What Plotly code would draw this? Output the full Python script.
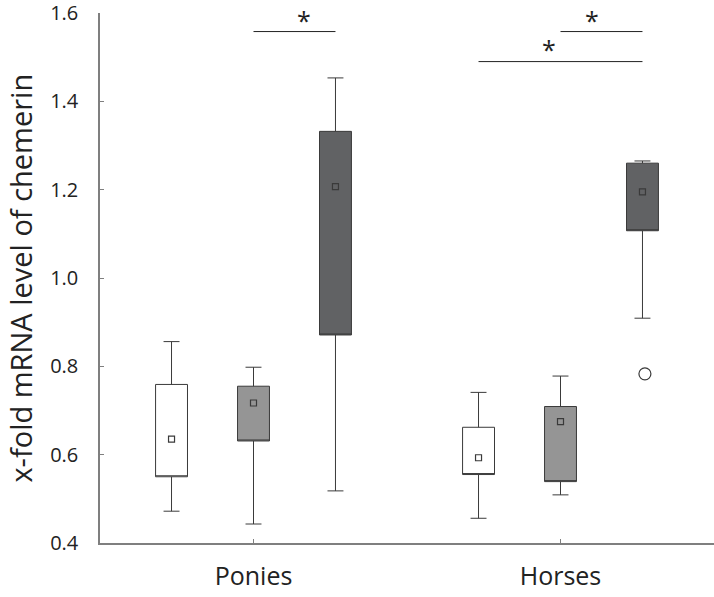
import plotly.graph_objects as go

categories = ["Ponies", "Horses"]

# Series 1 (white boxes)
s1_upper = [0.856, 0.741]
s1_q3 = [0.759, 0.662]
s1_q1 = [0.550, 0.555]
s1_lower = [0.472, 0.456]
s1_mean = [0.635, 0.593]

# Series 2 (light grey boxes)
s2_upper = [0.798, 0.778]
s2_q3 = [0.755, 0.709]
s2_q1 = [0.631, 0.539]
s2_lower = [0.443, 0.509]
s2_mean = [0.717, 0.675]

# Series 3 (dark grey boxes)
s3_upper = [1.453, 1.265]
s3_q3 = [1.332, 1.260]
s3_q1 = [0.871, 1.107]
s3_lower = [0.518, 0.909]
s3_mean = [1.207, 1.195]

# Outlier (Horses, series 3)
outlier_cat = [1]
outlier_val = [0.783]

y_ticks = [0.4, 0.6, 0.8, 1.0, 1.2, 1.4, 1.6]
y_title = "x-fold mRNA level of chemerin"

# significance brackets: (category, from series, to series, level)
sig_cat = [0, 1, 1]
sig_from = [1, 1, 0]
sig_to = [2, 2, 2]
sig_level = [1.558, 1.558, 1.490]
star_x = [0.163, 1.103, 0.962]
star_y = [1.600, 1.600, 1.535]

Y_MIN, Y_MAX = 0.4, 1.6
OFFSETS = [-0.267, 0.0, 0.267]
BOX_W = 0.104
LINE = "#3a3a3a"
FILLS = ["#ffffff", "#959595", "#616264"]
FONT = "Open Sans"

series = [
    (s1_upper, s1_q3, s1_q1, s1_lower, s1_mean),
    (s2_upper, s2_q3, s2_q1, s2_lower, s2_mean),
    (s3_upper, s3_q3, s3_q1, s3_lower, s3_mean),
]

fig = go.Figure()
for i, (up, q3, q1, lo, mn) in enumerate(series):
    xs = [c + OFFSETS[i] for c in range(len(categories))]
    fig.add_trace(go.Box(
        x=xs, q1=q1, median=q1, q3=q3, lowerfence=lo, upperfence=up,
        width=BOX_W, whiskerwidth=0.5, fillcolor=FILLS[i],
        line=dict(color=LINE, width=1), showlegend=False, hoverinfo="skip",
    ))
    fig.add_trace(go.Scatter(
        x=xs, y=mn, mode="markers",
        marker=dict(symbol="square-open", size=6, color=LINE, line=dict(width=1.2, color=LINE)),
        showlegend=False, hoverinfo="skip",
    ))

fig.add_trace(go.Scatter(
    x=[c + OFFSETS[2] + 0.008 for c in outlier_cat], y=outlier_val, mode="markers",
    marker=dict(symbol="circle-open", size=12, color=LINE, line=dict(width=1.2, color=LINE)),
    showlegend=False, hoverinfo="skip",
))

for c, a, b, lv in zip(sig_cat, sig_from, sig_to, sig_level):
    fig.add_trace(go.Scatter(
        x=[c + OFFSETS[a], c + OFFSETS[b]], y=[lv, lv], mode="lines",
        line=dict(color="#222222", width=1), showlegend=False, hoverinfo="skip",
        cliponaxis=False,
    ))

for sx, sy in zip(star_x, star_y):
    fig.add_annotation(x=sx, y=(sy - Y_MIN) / (Y_MAX - Y_MIN), xref="x", yref="paper",
                       text="*", showarrow=False,
                       font=dict(family=FONT, size=25, color="#222222"),
                       yanchor="middle", yshift=-7)

fig.add_annotation(x=-0.131, y=0.5, xref="paper", yref="paper", text=y_title,
                   textangle=-90, showarrow=False, xanchor="center", yanchor="middle",
                   font=dict(family=FONT, size=29, color="#222222"))

fig.update_layout(
    width=714, height=597,
    margin=dict(l=100, r=0, t=13, b=54, autoexpand=False),
    paper_bgcolor="white", plot_bgcolor="white",
    font=dict(family=FONT, color="#222222"),
    xaxis=dict(
        range=[-0.5, 1.5], tickmode="array", tickvals=list(range(len(categories))),
        ticktext=categories, showgrid=False, zeroline=False,
        showline=True, linecolor="#7f7f7f", linewidth=1.5,
        ticks="inside", ticklen=4, tickcolor="#7f7f7f", automargin=False,
        tickfont=dict(size=25, color="#222222"), ticklabelstandoff=10,
    ),
    yaxis=dict(
        range=[Y_MIN, Y_MAX], tickmode="array", tickvals=y_ticks,
        ticktext=[f"{v:.1f}" for v in y_ticks], showgrid=False, zeroline=False,
        showline=True, linecolor="#7f7f7f", linewidth=1.5,
        ticks="inside", ticklen=4, tickcolor="#7f7f7f", automargin=False,
        tickfont=dict(size=20, color="#222222"), ticklabelstandoff=16,
        ticklabeloverflow="allow",
    ),
)

fig.write_html("out.html", config={"displayModeBar": False},
               post_script="document.body.style.margin='0';document.body.style.overflow='hidden';")
